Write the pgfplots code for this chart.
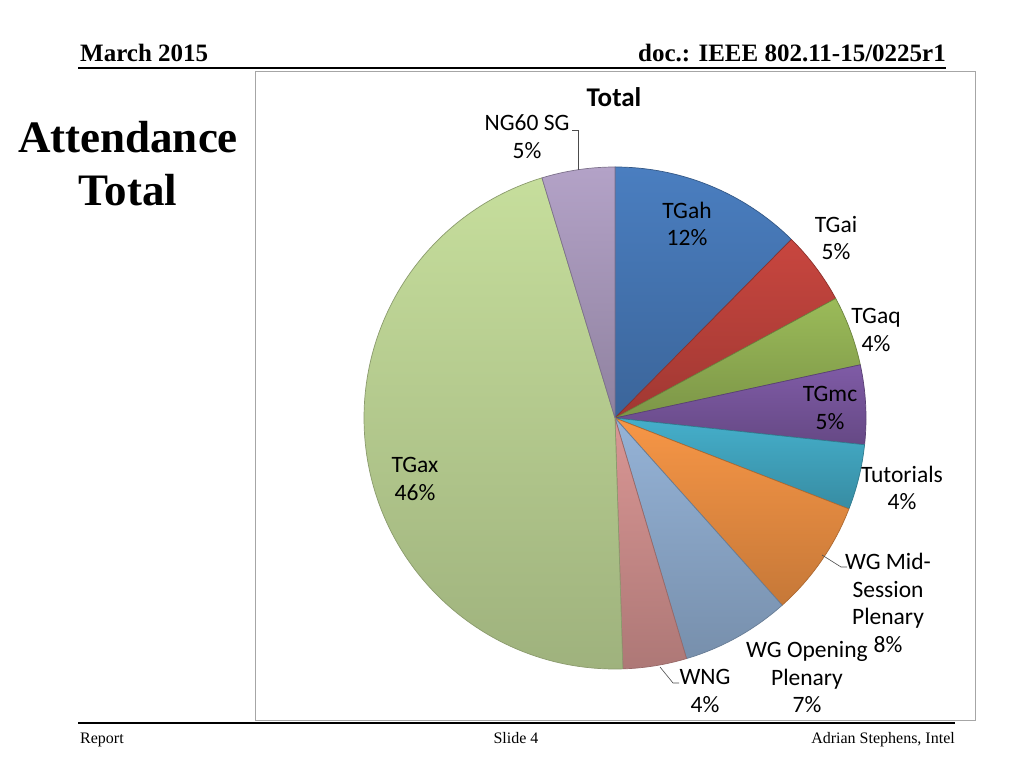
\documentclass[border=0pt]{standalone}
\usepackage{pgfplots}
\usepackage{pgfplotstable}
\pgfplotsset{compat=1.18}
\usepackage{fontspec}
\setmainfont{Liberation Serif}
\newfontfamily\calibri{Carlito}

% Excel 2007 palette
\definecolor{cAh}{HTML}{4A7EC0}
\definecolor{cAi}{HTML}{C8463F}
\definecolor{cAq}{HTML}{9BBB59}
\definecolor{cMc}{HTML}{7F5BA6}
\definecolor{cTut}{HTML}{45AFCB}
\definecolor{cMid}{HTML}{F79646}
\definecolor{cOpen}{HTML}{95B3D7}
\definecolor{cWng}{HTML}{D99694}
\definecolor{cAx}{HTML}{C6DE9C}
\definecolor{cNg}{HTML}{B3A2C7}

% share of total attendance, clockwise from 12 o'clock
\pgfplotstableread{
name      value  color
TGah      12.4   cAh
TGai       4.7   cAi
TGaq       4.5   cAq
TGmc       5.1   cMc
Tutorials  4.2   cTut
WGMid      7.5   cMid
WGOpen     7.0   cOpen
WNG        4.1   cWng
TGax      45.8   cAx
NG60SG     4.7   cNg
}\pietable
\pgfplotstablecreatecol[create col/expr accum={\pgfmathaccuma + \thisrow{value}}{0}]{cum}{\pietable}

\begin{document}
\begin{tikzpicture}
\fill[white] (0,0) rectangle (1024pt,768pt);
\path[use as bounding box] (0,0) rectangle (1024pt,768pt);

% slide header / footer
\node[anchor=base west,inner sep=0,font=\fontsize{25}{30}\selectfont\bfseries] at (80pt,706pt) {March 2015};
\node[anchor=base east,inner sep=0,font=\fontsize{25}{30}\selectfont\bfseries] at (946pt,706pt) {doc.: IEEE 802.11-15/0225r1};
\draw[line width=2pt] (78pt,700pt) -- (946pt,700pt);
\draw[line width=2pt] (78pt,45pt) -- (955pt,45pt);
\node[anchor=base west,inner sep=0,font=\fontsize{16}{19}\selectfont] at (80pt,25pt) {Report};
\node[anchor=base,inner sep=0,font=\fontsize{16}{19}\selectfont] at (516pt,25pt) {Slide 4};
\node[anchor=base east,inner sep=0,font=\fontsize{16}{19}\selectfont] at (955pt,25pt) {Adrian Stephens, Intel};
\node[anchor=base,inner sep=0,font=\fontsize{45}{53}\selectfont\bfseries] at (128pt,615pt) {Attendance};
\node[anchor=base,inner sep=0,font=\fontsize{45}{53}\selectfont\bfseries] at (128pt,562pt) {Total};

% chart area
\draw[gray!70,line width=1pt] (255pt,48pt) rectangle (975pt,696pt);
\node[anchor=base,inner sep=0,font=\calibri\fontsize{27}{32}\selectfont\bfseries] at (614pt,661pt) {Total};

\begin{axis}[
    hide axis,
    scale only axis,
    width=502pt, height=502pt,
    xmin=-1, xmax=1, ymin=-1, ymax=1,
    clip=false,
    at={(615pt,350pt)}, anchor=origin,
]
\pgfplotstablegetrowsof{\pietable}
\pgfmathtruncatemacro{\nrows}{\pgfplotsretval-1}
\pgfplotsforeachungrouped \i in {0,...,\nrows}{
    \pgfplotstablegetelem{\i}{value}\of\pietable \let\pval\pgfplotsretval
    \pgfplotstablegetelem{\i}{cum}\of\pietable \let\pcum\pgfplotsretval
    \pgfplotstablegetelem{\i}{color}\of\pietable \let\pcol\pgfplotsretval
    \pgfmathsetmacro{\pa}{90-3.6*(\pcum-\pval)}
    \pgfmathsetmacro{\pb}{90-3.6*\pcum}
    \edef\wedge{\noexpand\path[top color=\pcol, bottom color=\pcol!80!black,
        draw=\pcol!70!black, line width=0.7pt, line join=round]
        (axis cs:0,0) -- (axis cs:{cos(\pa)},{sin(\pa)})
        arc[start angle=\pa, end angle=\pb, radius=251pt] -- cycle;}
    \wedge
}
\end{axis}

% data labels
\tikzset{lbl/.style={align=center,inner sep=0,font=\calibri\fontsize{23.5}{27.5}\selectfont}}
\node[lbl] at (527pt,631.5pt) {NG60 SG\\5\%};
\node[lbl] at (687pt,544pt) {TGah\\12\%};
\node[lbl] at (836pt,530pt) {TGai\\5\%};
\node[lbl] at (876pt,438pt) {TGaq\\4\%};
\node[lbl] at (830pt,360pt) {TGmc\\5\%};
\node[lbl] at (902pt,280pt) {Tutorials\\4\%};
\node[lbl] at (415pt,289pt) {TGax\\46\%};
\node[lbl] at (888pt,165pt) {WG Mid-\\Session\\Plenary\\8\%};
\node[lbl] at (807pt,90.5pt) {WG Opening\\Plenary\\7\%};
\node[lbl] at (705pt,77pt) {WNG\\4\%};

% leader lines
\draw[gray!60!black,line width=0.6pt] (572pt,638pt) -- (578pt,638pt) -- (578pt,598pt);
\draw[gray!60!black,line width=0.6pt] (822pt,213pt) -- (841pt,201pt) -- (847pt,201pt);
\draw[gray!60!black,line width=0.6pt] (660pt,101pt) -- (673pt,85pt) -- (679pt,85pt);
\end{tikzpicture}
\end{document}
